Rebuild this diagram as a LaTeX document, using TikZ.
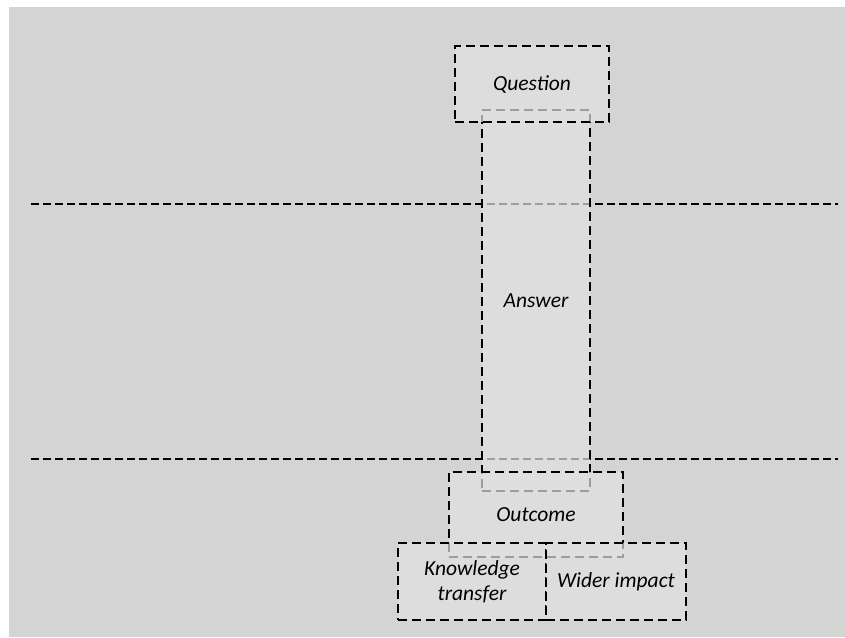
\documentclass[tikz,border=0pt]{standalone}
\usepackage{fontspec}
\setmainfont{Carlito}
\definecolor{pagegrey}{HTML}{D4D4D4}
\definecolor{boxfill}{HTML}{E1E1E1}
\begin{document}
\begin{tikzpicture}[x=1pt, y=-1pt,
    stage/.style={draw=black, line width=2.8pt, dash pattern=on 9pt off 5pt,
        fill=boxfill, fill opacity=0.7, text opacity=1, inner sep=0pt,
        rectangle, align=center, font=\fontsize{21.5}{25}\selectfont\itshape},
    level/.style={draw=black, line width=2.5pt, dash pattern=on 8pt off 4pt}]
    \useasboundingbox (0, 0) rectangle (845, 637);
    \fill[pagegrey] (9, 7) rectangle (845, 637);

    % levels
    \coordinate (upperL) at (31, 204);
    \coordinate (upperR) at (838, 204);
    \coordinate (lowerL) at (31, 459);
    \coordinate (lowerR) at (838, 459);
    \draw[level] (upperL) -- (upperR);
    \draw[level] (lowerL) -- (lowerR);

    % answer
    \node[stage, minimum width=108, minimum height=381] (answer) at (536, 300.5) {Answer};

    % question
    \node[stage, minimum width=154, minimum height=76] (question) at (532, 84) {Question};

    % outcome
    \node[stage, minimum width=174, minimum height=85] (outcome) at (536, 514.5) {Outcome};

    % knowledge transfer and impact
    \node[stage, minimum width=148, minimum height=77] (transfer) at (472, 581.5) {Knowledge\\transfer};
    \node[stage, minimum width=140, minimum height=77] (impact) at (616, 581.5) {Wider impact};
\end{tikzpicture}
\end{document}
